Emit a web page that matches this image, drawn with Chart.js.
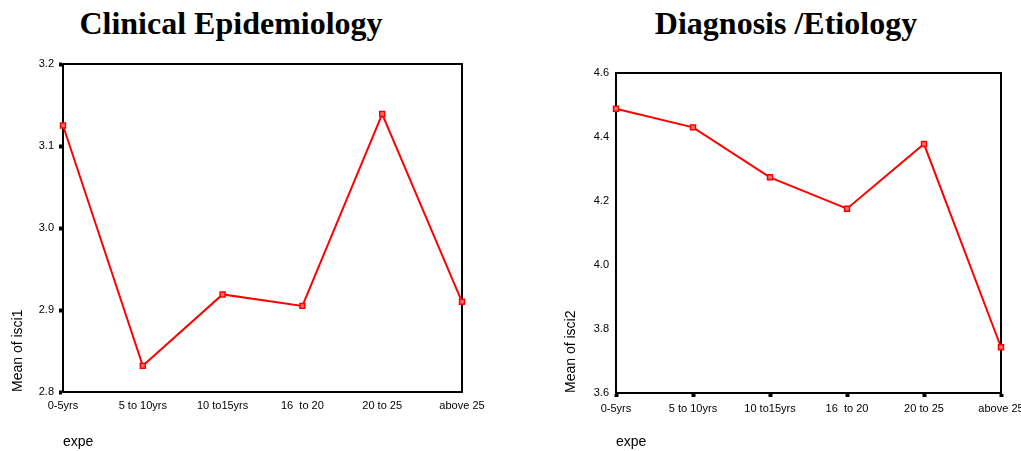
<!DOCTYPE html>
<html>
<head>
<meta charset="utf-8">
<script src="https://cdn.jsdelivr.net/npm/chart.js@4"></script>
<style>
  body { margin: 0; background: #fff; width: 1021px; height: 451px; position: relative; overflow: hidden; }
  .box { position: absolute; top: 0; height: 451px; }
  .ttl { position: absolute; top: 5px; font: bold 32px "Liberation Serif", "Times New Roman", serif; color: #000; white-space: nowrap; transform: translateX(-50%); }
</style>
</head>
<body>
<div class="ttl" style="left:231px">Clinical Epidemiology</div>
<div class="ttl" style="left:786px">Diagnosis /Etiology</div>
<div class="box" style="left:0; width:500px"><canvas id="leftChart"></canvas></div>
<div class="box" style="left:540px; width:481px"><canvas id="rightChart"></canvas></div>
<script>
// Categories (x axis)
const expeLabels = ["0-5yrs", "5 to 10yrs", "10 to15yrs", "16  to 20", "20 to 25", "above 25"];

// Series values
const isci1Means = [3.125, 2.832, 2.919, 2.905, 3.139, 2.910];
const isci2Means = [4.488, 4.430, 4.274, 4.176, 4.378, 3.743];

// Y axis ranges / tick steps
const isci1Range = { min: 2.8, max: 3.2, step: 0.1 };
const isci2Range = { min: 3.6, max: 4.6, step: 0.2 };

Chart.defaults.font.family = '"Liberation Sans", Arial, sans-serif';
Chart.defaults.color = "#000";

// draws the closed frame round the plot area (SPSS style)
const frameBox = {
  id: "frameBox",
  beforeDatasetsDraw(chart) {
    const { ctx, chartArea: a } = chart;
    ctx.save();
    ctx.strokeStyle = "#000";
    ctx.lineWidth = 2;
    ctx.strokeRect(a.left, a.top, a.right - a.left, a.bottom - a.top);
    ctx.restore();
  },
};

function makeChart(id, values, range, yTitle, o) {
  const ctx = document.getElementById(id).getContext("2d");
  return new Chart(ctx, {
    type: "line",
    data: {
      labels: expeLabels,
      datasets: [
        {
          data: values,
          borderColor: "#ff0000",
          borderWidth: 2,
          backgroundColor: "#ff7070",
          pointStyle: "rect",
          pointRadius: 3.5,
          pointBorderWidth: 1.5,
          pointBorderColor: "#ff0000",
          tension: 0,
          clip: false,
        },
      ],
    },
    options: {
      responsive: true,
      maintainAspectRatio: false,
      animation: false,
      layout: { padding: { top: o.top, right: o.right, bottom: 0, left: 0 } },
      plugins: { legend: { display: false }, tooltip: { enabled: false } },
      scales: {
        x: {
          offset: false,
          border: { color: "#000", width: 2 },
          grid: {
            drawOnChartArea: false,
            drawTicks: o.xTicks,
            tickLength: 4,
            tickWidth: 4,
            tickColor: "#000",
          },
          ticks: { font: { size: 11 }, padding: o.xPad, maxRotation: 0, autoSkip: false },
          title: { display: true, text: "expe", align: "start", font: { size: 14 }, padding: 0 },
          afterFit: (s) => {
            s.height = o.xHeight;
            s.paddingLeft = 0;
            s.paddingRight = 0;
          },
        },
        y: {
          min: range.min,
          max: range.max,
          border: { color: "#000", width: 2 },
          grid: {
            drawOnChartArea: false,
            drawTicks: o.yTicks,
            tickLength: 4,
            tickWidth: 4,
            tickColor: "#000",
          },
          ticks: {
            stepSize: range.step,
            font: { size: 11 },
            padding: o.yPad,
            callback: (v) => v.toFixed(1),
          },
          title: { display: true, text: yTitle, align: "start", font: { size: 14 }, padding: { top: o.yTitlePad } },
          afterFit: (s) => {
            s.width = o.yWidth;
            s.paddingTop = 0;
            s.paddingBottom = 0;
          },
        },
      },
    },
    plugins: [frameBox],
  });
}

makeChart("leftChart", isci1Means, isci1Range, "Mean of isci1", {
  top: 64, right: 38, xHeight: 59, yWidth: 63, xTicks: false, yTicks: true, xPad: 7, yPad: 5, yTitlePad: 10,
});
makeChart("rightChart", isci2Means, isci2Range, "Mean of isci2", {
  top: 73, right: 20, xHeight: 58, yWidth: 76, xTicks: true, yTicks: false, xPad: 5, yPad: 7, yTitlePad: 23,
});
</script>
</body>
</html>
